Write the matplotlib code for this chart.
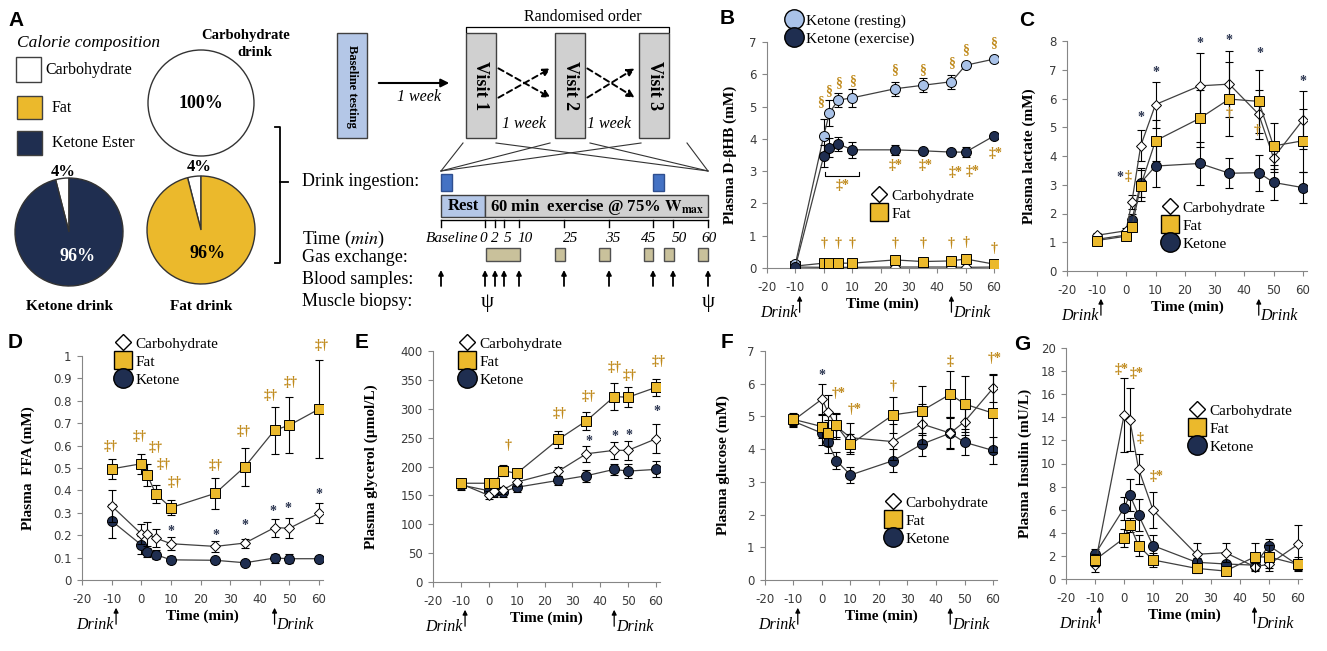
import matplotlib
matplotlib.use('Agg')
import matplotlib.pyplot as plt
from matplotlib.lines import Line2D
from matplotlib.patches import Rectangle
from matplotlib.transforms import offset_copy
from matplotlib.ticker import MultipleLocator, FormatStrFormatter

plt.rcParams['mathtext.fontset'] = 'stix'
plt.rcParams['font.family'] = 'DejaVu Sans'
plt.rcParams['axes.unicode_minus'] = False

W, H = 1327, 651
SERIF = 'Liberation Serif'
NAVY = '#1f2e50'
GOLD = '#ebb92c'
LBLUE = '#a9c2e8'
SYM = '#c08a1c'
SYM_STAR = '#2b3550'

#----data----
t_min = [-10, 0, 2, 5, 10, 25, 35, 45, 50, 60]

# B  plasma D-bHB (mM)
bhb_ket_rest = [0.12, 4.10, 4.80, 5.20, 5.27, 5.55, 5.66, 5.77, 6.28, 6.47]
bhb_ket_rest_sem = [0.04, 0.50, 0.40, 0.22, 0.27, 0.22, 0.22, 0.22, 0.10, 0.06]
bhb_ket_ex = [0.04, 3.47, 3.73, 3.85, 3.66, 3.66, 3.63, 3.59, 3.59, 4.09]
bhb_ket_ex_sem = [0.03, 0.35, 0.30, 0.22, 0.25, 0.15, 0.06, 0.06, 0.15, 0.06]
bhb_carb = [0.03, 0.02, 0.02, 0.02, 0.02, 0.03, 0.03, 0.03, 0.02, 0.03]
bhb_carb_sem = [0.01, 0.01, 0.01, 0.01, 0.01, 0.01, 0.01, 0.01, 0.01, 0.01]
bhb_fat = [0.06, 0.15, 0.15, 0.15, 0.15, 0.25, 0.20, 0.22, 0.28, 0.12]
bhb_fat_sem = [0.02, 0.03, 0.03, 0.03, 0.03, 0.05, 0.04, 0.04, 0.05, 0.03]

# C  plasma lactate (mM)
lac_carb = [1.24, 1.40, 2.41, 4.36, 5.79, 6.44, 6.50, 5.45, 3.94, 5.26]
lac_carb_sem = [0.08, 0.10, 0.25, 0.55, 0.80, 1.15, 1.15, 0.85, 0.50, 1.00]
lac_fat = [1.06, 1.21, 1.53, 2.97, 4.53, 5.31, 5.98, 5.90, 4.35, 4.53]
lac_fat_sem = [0.08, 0.08, 0.15, 0.55, 0.72, 1.00, 1.30, 1.10, 0.80, 1.10]
lac_ket = [1.10, 1.25, 1.77, 3.07, 3.65, 3.74, 3.40, 3.42, 3.08, 2.90]
lac_ket_sem = [0.08, 0.10, 0.20, 0.50, 0.72, 0.75, 0.53, 0.63, 0.60, 0.55]

# D  plasma FFA (mM)
ffa_carb = [0.331, 0.206, 0.206, 0.187, 0.162, 0.150, 0.165, 0.234, 0.231, 0.298]
ffa_carb_sem = [0.070, 0.045, 0.055, 0.040, 0.030, 0.025, 0.020, 0.040, 0.045, 0.045]
ffa_fat = [0.496, 0.519, 0.469, 0.383, 0.323, 0.387, 0.506, 0.669, 0.691, 0.763]
ffa_fat_sem = [0.045, 0.045, 0.050, 0.040, 0.035, 0.070, 0.085, 0.105, 0.125, 0.220]
ffa_ket = [0.264, 0.157, 0.123, 0.113, 0.090, 0.088, 0.077, 0.098, 0.095, 0.095]
ffa_ket_sem = [0.075, 0.040, 0.020, 0.020, 0.015, 0.010, 0.010, 0.020, 0.020, 0.012]

# E  plasma glycerol (umol/L)
gly_carb = [170, 150, 158, 159, 173, 192, 222, 228, 228, 248]
gly_carb_sem = [8, 7, 6, 6, 7, 8, 14, 15, 17, 25]
gly_fat = [171, 171, 171, 193, 188, 247, 279, 321, 320, 337]
gly_fat_sem = [8, 6, 6, 10, 7, 15, 15, 24, 17, 15]
gly_ket = [168, 158, 156, 156, 164, 176, 184, 195, 192, 195]
gly_ket_sem = [8, 8, 8, 8, 8, 8, 10, 10, 12, 14]

# F  plasma glucose (mM)
glu_carb = [4.88, 5.53, 5.15, 4.70, 4.35, 4.23, 4.77, 4.49, 4.84, 5.86]
glu_carb_sem = [0.15, 0.45, 0.50, 0.40, 0.45, 0.55, 0.60, 0.50, 0.40, 0.42]
glu_fat = [4.91, 4.69, 4.49, 4.73, 4.15, 5.05, 5.17, 5.68, 5.38, 5.10]
glu_fat_sem = [0.20, 0.35, 0.40, 0.35, 0.30, 0.55, 0.75, 0.70, 0.85, 1.20]
glu_ket = [4.85, 4.49, 4.23, 3.65, 3.21, 3.65, 4.15, 4.49, 4.21, 3.96]
glu_ket_sem = [0.18, 0.35, 0.35, 0.25, 0.25, 0.35, 0.35, 0.45, 0.40, 0.40]

# G  plasma insulin (mU/L)
ins_carb = [1.20, 14.16, 13.80, 9.54, 5.98, 2.14, 2.28, 1.07, 1.27, 3.00]
ins_carb_sem = [0.60, 3.20, 2.70, 1.30, 1.55, 1.00, 0.80, 0.30, 0.60, 1.70]
ins_fat = [1.65, 3.53, 4.68, 2.89, 1.65, 0.92, 0.69, 1.91, 1.91, 1.27]
ins_fat_sem = [0.50, 0.80, 0.60, 0.90, 0.60, 0.40, 0.20, 1.20, 1.00, 0.60]
ins_ket = [2.14, 6.13, 7.28, 5.55, 2.89, 1.45, 1.30, 1.20, 2.89, 1.20]
ins_ket_sem = [0.50, 1.00, 1.40, 1.40, 0.90, 0.40, 0.30, 0.30, 0.60, 0.40]

# significance marks (x, y, symbol)
sig_b = [(-1.1, 5.15, '§'), (1.8, 5.49, '§'), (5.1, 5.74, '§'), (10, 5.8, '§'),
         (25, 6.13, '§'), (35, 6.14, '§'), (45, 6.35, '§'), (50, 6.76, '§'),
         (60, 6.97, '§'),
         (6.5, 2.55, '‡*'), (25.2, 3.17, '‡*'), (36, 3.17, '‡*'), (46.4, 2.96, '‡*'),
         (52.6, 3.0, '‡*'), (60.6, 3.55, '‡*'),
         (0, 0.76, '†'), (5, 0.76, '†'), (10, 0.76, '†'), (25, 0.76, '†'),
         (35, 0.76, '†'), (45, 0.76, '†'), (50, 0.8, '†'), (60, 0.6, '†')]
sig_c = [(5, 5.49, '*'), (10, 7.05, '*'), (25, 8.05, '*'), (35, 8.16, '*'),
         (45.5, 7.7, '*'), (60, 6.73, '*'), (-2.15, 3.4, '*'), (0.7, 3.28, '‡'),
         (35, 5.49, '†'), (44.6, 4.9, '†')]
sig_d = [(-10.5, 0.595, '‡†'), (-0.6, 0.64, '‡†'), (4.7, 0.59, '‡†'), (7.5, 0.516, '‡†'),
         (11.1, 0.436, '‡†'), (25.2, 0.51, '‡†'), (34.6, 0.665, '‡†'), (43.6, 0.825, '‡†'),
         (50.4, 0.88, '‡†'), (60.8, 1.045, '‡†'),
         (10, 0.236, '*'), (25.2, 0.217, '*'), (35, 0.261, '*'), (44.5, 0.323, '*'),
         (49.6, 0.335, '*'), (60, 0.4, '*')]
sig_e = [(6.9, 237, '†'), (25.3, 291, '‡†'), (35.8, 322, '‡†'), (45.1, 371, '‡†'),
         (50.7, 358, '‡†'), (61.1, 381, '‡†'),
         (36, 250, '*'), (45.3, 259, '*'), (50.4, 260, '*'), (60.5, 302, '*')]
sig_f = [(-0.15, 6.37, '*'), (6.0, 5.69, '†*'), (11.5, 5.2, '†*'), (25, 5.91, '†'),
         (45, 6.67, '‡'), (60.6, 6.78, '†*')]
sig_g = [(-0.8, 18.1, '‡*'), (4.3, 17.8, '‡*'), (5.5, 12.2, '‡'), (11.2, 8.9, '‡*')]

# calorie composition of drinks (%)
ketone_drink = [4, 96]
fat_drink = [4, 96]
carb_drink = [100]

#----figure----
fig = plt.figure(figsize=(W / 100, H / 100), dpi=100)


def px_axes(left, top, right, bottom):
    return fig.add_axes([left / W, 1 - bottom / H, (right - left) / W, (bottom - top) / H])


ax0 = px_axes(0, 0, W, H)
ax0.set_xlim(0, W)
ax0.set_ylim(H, 0)
ax0.axis('off')


def t0(x, y, s, **kw):
    kw.setdefault('family', SERIF)
    kw.setdefault('ha', 'center')
    kw.setdefault('va', 'center')
    ax0.text(x, y, s, **kw)


def box(x0, y0, x1, y1, fc, ec='#404040', lw=1.0):
    ax0.add_patch(Rectangle((x0, y0), x1 - x0, y1 - y0, facecolor=fc, edgecolor=ec, linewidth=lw))


#------panel A: calorie composition------
t0(17, 43, 'Calorie composition', ha='left', style='italic', fontsize=12.5)
box(16, 57, 41, 82, 'white')
box(17, 96, 42, 119, GOLD)
box(17, 131, 42, 155, NAVY)
t0(45, 70, 'Carbohydrate', ha='left', fontsize=11.5)
t0(52, 108, 'Fat', ha='left', fontsize=11.5)
t0(52, 143, 'Ketone Ester', ha='left', fontsize=11.5)
t0(246, 35, 'Carbohydrate', fontsize=10.5, fontweight='bold')
t0(255, 53, 'drink', fontsize=10.5, fontweight='bold')
t0(70, 306, 'Ketone drink', fontsize=11, fontweight='bold')
t0(201, 307, 'Fat drink', fontsize=11, fontweight='bold')


def pie_at(cx, cy, r, vals, cols):
    pa = px_axes(cx - r - 2, cy - r - 2, cx + r + 2, cy + r + 2)
    pa.pie(vals, colors=cols, startangle=90,
           wedgeprops=dict(edgecolor='#333333', linewidth=1.0))
    lim = (r + 2) / r
    pa.set_xlim(-lim, lim)
    pa.set_ylim(-lim, lim)
    return pa


pc = pie_at(201, 103, 53, carb_drink, ['white'])
pc.text(0, 0, f'{carb_drink[0]}%', ha='center', va='center', family=SERIF,
        fontsize=13, fontweight='bold')
pk = pie_at(69, 232, 54, ketone_drink, ['white', NAVY])
pk.text(-0.1, 1.12, f'{ketone_drink[0]}%', ha='center', va='center', family=SERIF,
        fontsize=12, fontweight='bold')
pk.text(0.15, -0.45, f'{ketone_drink[1]}%', ha='center', va='center', family=SERIF,
        fontsize=13, fontweight='bold', color='white')
pf = pie_at(201, 230, 54, fat_drink, ['white', GOLD])
pf.text(-0.04, 1.16, f'{fat_drink[0]}%', ha='center', va='center', family=SERIF,
        fontsize=12, fontweight='bold')
pf.text(0.13, -0.43, f'{fat_drink[1]}%', ha='center', va='center', family=SERIF,
        fontsize=13, fontweight='bold')

# bracket joining drinks to protocol
ax0.plot([275, 280, 280, 275], [127, 127, 263, 263], color='black', lw=1.3)
ax0.plot([280, 288], [182, 182], color='black', lw=1.3)

#------study design------
box(337, 33, 367, 138, '#b4c7e7')
t0(352, 86, 'Baseline testing', rotation=270, fontsize=9, fontweight='bold')
ax0.annotate('', xy=(452, 83), xytext=(376, 83),
             arrowprops=dict(arrowstyle='-|>', color='black', lw=1.5, mutation_scale=12))
t0(419, 97, '1 week', style='italic', fontsize=11.5)
t0(583, 17, 'Randomised order', fontsize=11.5)
ax0.plot([466, 466, 669, 669], [32, 27, 27, 32], color='black', lw=0.9)
visits = [(466, 'Visit 1'), (555, 'Visit 2'), (639, 'Visit 3')]
for vx, vt in visits:
    box(vx, 33, vx + 30, 138, '#d0d0d0')
    t0(vx + 15, 86, vt, rotation=270, fontsize=13, fontweight='bold')
for xa, xb in [(496, 553), (585, 637)]:
    for ya, yb in [(67, 99), (99, 67)]:
        ax0.annotate('', xy=(xb, yb), xytext=(xa, ya),
                     arrowprops=dict(arrowstyle='-|>', color='black', lw=1.4,
                                     linestyle=(0, (3, 2)), mutation_scale=11))
t0(524, 124, '1 week', style='italic', fontsize=11.5)
t0(609, 124, '1 week', style='italic', fontsize=11.5)
for xs, xe in [(463, 441), (496, 708), (550, 441), (590, 708), (641, 441), (687, 708)]:
    ax0.plot([xs, xe], [143, 171], color='#333333', lw=0.8)

t0(302, 182, 'Drink ingestion:', ha='left', fontsize=13)
t0(302, 239, 'Time ($\\mathit{min}$)', ha='left', fontsize=13)
t0(302, 258, 'Gas exchange:', ha='left', fontsize=13)
t0(302, 279, 'Blood samples:', ha='left', fontsize=13)
t0(302, 302, 'Muscle biopsy:', ha='left', fontsize=13)

box(441, 174, 452, 191, '#4472c4', ec='#2f4f8f')
box(653, 174, 664, 191, '#4472c4', ec='#2f4f8f')
box(441, 195, 485, 217, '#b4c7e7')
box(485, 195, 708, 217, '#d0d0d0')
t0(463, 206, 'Rest', fontsize=12, fontweight='bold')
t0(490, 207, '60 min  exercise @ 75% $\\mathbf{W_{max}}$', ha='left', fontsize=12,
   fontweight='bold')

tl_x = [441, 485, 495, 504, 519, 564, 609, 653, 673, 708]
tl_lab = ['Baseline', '0', '2', '5', '10', '25', '35', '45', '50', '60']
tl_lab_x = [478, 483, 495, 508, 525, 571, 613, 649, 679, 709]
ax0.plot([441, 708], [220, 220], color='black', lw=1.0)
for x in tl_x:
    ax0.plot([x, x], [220, 227], color='black', lw=1.0)
for x, s in zip(tl_lab_x, tl_lab):
    t0(x, 239, s, ha='right' if s == 'Baseline' else 'center', style='italic', fontsize=11)
for x0_, x1_ in [(486, 520), (555, 565), (599, 610), (644, 653), (664, 674), (698, 708)]:
    box(x0_, 248, x1_, 261, '#c9c19b', ec='#505050')
for x in tl_x:
    ax0.annotate('', xy=(x, 270), xytext=(x, 286),
                 arrowprops=dict(arrowstyle='-|>', color='black', lw=1.3,
                                 mutation_scale=7, shrinkA=0, shrinkB=0))
t0(487, 302, 'ψ', fontsize=15)
t0(708, 302, 'ψ', fontsize=15)

# panel letters
for lx, ly, lt in [(16, 20, 'A'), (727, 19, 'B'), (1027, 20, 'C'), (15, 342, 'D'),
                   (362, 342, 'E'), (727, 343, 'F'), (1022, 345, 'G')]:
    t0(lx, ly, lt, family='Liberation Sans', fontsize=15, fontweight='bold')


#------time-course panels------
def make_panel(left, x60, bottom, top, ymax, ystep, ylabel, ylab_px):
    sc = (x60 - left) / 80.0
    right = x60 + 1.5 * sc
    ax = px_axes(left, top, right, bottom)
    ax.set_xlim(-20, 61.5)
    ax.set_ylim(0, ymax)
    ax.xaxis.set_major_locator(MultipleLocator(10))
    ax.yaxis.set_major_locator(MultipleLocator(ystep))
    ax.yaxis.set_major_formatter(FormatStrFormatter('%g'))
    for s in ['top', 'right']:
        ax.spines[s].set_visible(False)
    for s in ['left', 'bottom']:
        ax.spines[s].set_color('#868686')
    ax.tick_params(direction='out', length=3.5, width=0.8, color='#868686',
                   labelcolor='#3a3a3a', labelsize=8.5, pad=4)
    ax.tick_params(axis='x', pad=6)
    for lbl in ax.get_xticklabels() + ax.get_yticklabels():
        lbl.set_fontfamily('DejaVu Sans')
    ax.patch.set_alpha(0)
    w = right - left
    h = bottom - top
    ax.set_ylabel(ylabel, family=SERIF, fontsize=11, fontweight='bold')
    ax.yaxis.set_label_coords((ylab_px + 7 - left) / w, 0.5)
    ax.set_xlabel('Time (min)', family=SERIF, fontsize=11, fontweight='bold')
    ax.xaxis.set_label_coords(0.5, -30 / h)
    # drink arrows
    xt = ax.get_xaxis_transform()
    head = offset_copy(xt, fig=fig, y=-25, units='dots')
    tail = offset_copy(xt, fig=fig, y=-47, units='dots')
    lab = offset_copy(xt, fig=fig, y=-45, units='dots')
    for xd, ha, dx in [(-8.5, 'right', -0.8), (45, 'left', 0.6)]:
        ax.annotate('', xy=(xd, 0), xycoords=head, xytext=(xd, 0), textcoords=tail,
                    arrowprops=dict(arrowstyle='-|>', color='black', lw=0.9,
                                    mutation_scale=7), annotation_clip=False)
        ax.text(xd + dx, 0, 'Drink', transform=lab, ha=ha, va='center',
                family=SERIF, style='italic', fontsize=11.5)
    return ax


def series(ax, y, err, marker, face, ms, z):
    ax.errorbar(t_min, y, yerr=err, fmt='none', ecolor='black', elinewidth=0.8,
                capsize=3.2, capthick=0.8, zorder=z)
    ax.plot(t_min, y, color='#404040', lw=0.9, marker=marker, ms=ms, mfc=face,
            mec='black', mew=0.7, zorder=z + 0.5)


def put_sig(ax, marks):
    for x, y, s in marks:
        col = SYM_STAR if s == '*' else SYM
        tr = ax.transData
        if s == '*':
            tr = offset_copy(ax.transData, fig=fig, y=-4, units='dots')
        ax.text(x, y, s, transform=tr, ha='center', va='center', family=SERIF,
                fontsize=10, fontweight='bold', color=col, clip_on=False, zorder=6)


def h_carb(ms=11.5):
    return Line2D([], [], ls='none', marker='D', ms=ms * 0.72, mfc='white', mec='black', mew=1.0)


def h_fat(ms=13.5):
    return Line2D([], [], ls='none', marker='s', ms=ms, mfc=GOLD, mec='black', mew=1.0)


def h_circ(face, ms=14):
    return Line2D([], [], ls='none', marker='o', ms=ms, mfc=face, mec='black', mew=1.0)


def legend_at(ax, handles, labels, cx, cy):
    leg = ax.legend(handles, labels, loc='upper left',
                    bbox_to_anchor=((cx - 10) / W, 1 - (cy - 11) / H),
                    bbox_transform=fig.transFigure, frameon=False, borderpad=0,
                    borderaxespad=0, handlelength=1.3, handletextpad=0.15,
                    labelspacing=0.28, prop={'family': SERIF, 'size': 11})
    return leg


def three_series(ax, carb, carb_e, fat, fat_e, ket, ket_e):
    series(ax, ket, ket_e, 'o', NAVY, 7.2, 2)
    series(ax, carb, carb_e, 'D', 'white', 5.3, 3)
    series(ax, fat, fat_e, 's', GOLD, 7.4, 4)


# B
axB = make_panel(767, 994, 268, 42, 7, 1, 'Plasma D-βHB (mM)', 730)
series(axB, bhb_carb, bhb_carb_sem, 'D', 'white', 5.3, 2)
series(axB, bhb_fat, bhb_fat_sem, 's', GOLD, 7.4, 3)
series(axB, bhb_ket_rest, bhb_ket_rest_sem, 'o', LBLUE, 7.2, 4)
series(axB, bhb_ket_ex, bhb_ket_ex_sem, 'o', NAVY, 7.2, 5)
axB.plot([0.6, 0.6, 12.3, 12.3], [2.98, 2.85, 2.85, 2.98], color='black', lw=0.8)
put_sig(axB, sig_b)
lg = legend_at(axB, [h_circ(LBLUE), h_circ(NAVY)], ['Ketone (resting)', 'Ketone (exercise)'], 794, 25)
axB.add_artist(lg)
legend_at(axB, [h_carb(), h_fat()], ['Carbohydrate', 'Fat'], 879, 200)

# C
axC = make_panel(1067, 1303, 271, 41, 8, 1, 'Plasma lactate (mM)', 1029)
three_series(axC, lac_carb, lac_carb_sem, lac_fat, lac_fat_sem, lac_ket, lac_ket_sem)
put_sig(axC, sig_c)
legend_at(axC, [h_carb(), h_fat(), h_circ(NAVY)], ['Carbohydrate', 'Fat', 'Ketone'], 1170, 212)

# D
axD = make_panel(82, 319, 580, 356, 1, 0.1, 'Plasma  FFA (mM)', 28)
three_series(axD, ffa_carb, ffa_carb_sem, ffa_fat, ffa_fat_sem, ffa_ket, ffa_ket_sem)
put_sig(axD, sig_d)
legend_at(axD, [h_carb(), h_fat(), h_circ(NAVY)], ['Carbohydrate', 'Fat', 'Ketone'], 123, 348)

# E
axE = make_panel(433, 656, 582, 351, 400, 50, 'Plasma glycerol (µmol/L)', 371)
three_series(axE, gly_carb, gly_carb_sem, gly_fat, gly_fat_sem, gly_ket, gly_ket_sem)
put_sig(axE, sig_e)
legend_at(axE, [h_carb(), h_fat(), h_circ(NAVY)], ['Carbohydrate', 'Fat', 'Ketone'], 467, 348)

# F
axF = make_panel(765, 993, 580, 351, 7, 1, 'Plasma glucose (mM)', 723)
three_series(axF, glu_carb, glu_carb_sem, glu_fat, glu_fat_sem, glu_ket, glu_ket_sem)
put_sig(axF, sig_f)
legend_at(axF, [h_carb(), h_fat(), h_circ(NAVY)], ['Carbohydrate', 'Fat', 'Ketone'], 893, 507)

# G
axG = make_panel(1066, 1298, 579, 348, 20, 2, 'Plasma Insulin (mU/L)', 1025)
three_series(axG, ins_carb, ins_carb_sem, ins_fat, ins_fat_sem, ins_ket, ins_ket_sem)
put_sig(axG, sig_g)
legend_at(axG, [h_carb(), h_fat(), h_circ(NAVY)], ['Carbohydrate', 'Fat', 'Ketone'], 1197, 415)

fig.savefig('out.png', dpi=100)
